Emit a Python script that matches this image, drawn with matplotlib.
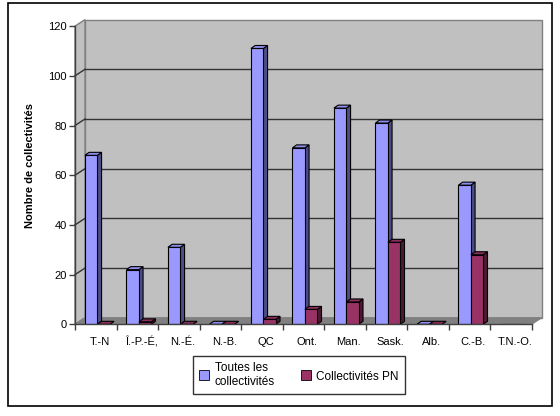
import numpy as np
import matplotlib
matplotlib.use("Agg")
import matplotlib.pyplot as plt
from matplotlib.patches import Polygon, Rectangle
from matplotlib.lines import Line2D

plt.rcParams['font.family'] = ['Liberation Sans', 'DejaVu Sans']

provinces = ['T.-N', 'Î.-P.-É,', 'N.-É.', 'N.-B.', 'QC', 'Ont.', 'Man.',
             'Sask.', 'Alb.', 'C.-B.', 'T.N.-O.']
toutes = [68, 22, 31, 0, 111, 71, 87, 81, 0, 56, np.nan]
pn = [0, 1, 0, 0, 2, 6, 9, 33, 0, 28, np.nan]
yticks = [0, 20, 40, 60, 80, 100, 120]

# colours (front, side, top)
blue = ('#9999FF', '#4D4D85', '#8F8FEF')
red = ('#993366', '#4D1A33', '#8A2D5C')

W, H = 560, 416
fig = plt.figure(figsize=(W / 100, H / 100), dpi=100)

# front plane of the 3D box, in pixels
x0p, x1p, y0p, y1p = 75, 531.5, 324.3, 26.1
ax = fig.add_axes([x0p / W, 1 - y0p / H, (x1p - x0p) / W, (y0p - y1p) / H])
ax.set_xlim(-0.5, 10.5)
ax.set_ylim(0, 120)
ax.patch.set_visible(False)

# depth offset in data units
dx = 10 / ((x1p - x0p) / 11)
dy = 6.5 / ((y0p - y1p) / 120)
top = yticks[-1]

wall = '#C0C0C0'
# back wall, side wall, floor
ax.add_patch(Polygon([(-0.5 + dx, dy), (10.5 + dx, dy), (10.5 + dx, top + dy),
                      (-0.5 + dx, top + dy)], closed=True, fc=wall,
                     ec='#808080', lw=1, clip_on=False, zorder=0))
ax.add_patch(Polygon([(-0.5, 0), (-0.5 + dx, dy), (-0.5 + dx, top + dy),
                      (-0.5, top)], closed=True, fc=wall, ec='#808080',
                     lw=1, clip_on=False, zorder=0))
ax.add_patch(Polygon([(-0.5, 0), (10.5, 0), (10.5 + dx, dy), (-0.5 + dx, dy)],
                     closed=True, fc='#808080', ec='#808080', lw=1,
                     clip_on=False, zorder=1))

# gridlines on the walls
for v in yticks[1:-1]:
    ax.plot([-0.5 + dx, 10.5 + dx], [v + dy, v + dy], color='#333333',
            lw=1, clip_on=False, zorder=1)
    ax.plot([-0.5, -0.5 + dx], [v, v + dy], color='#333333', lw=1,
            clip_on=False, zorder=1)

# bars
x = np.arange(len(provinces))
w = 0.3
shift = 0.04
ddx, ddy = 0.1, 1.2


def draw_bars(xs, vals, cols):
    ax.bar(xs, np.nan_to_num(vals), width=w, align='edge', color=cols[0],
           edgecolor='black', linewidth=0.8, zorder=3)
    for xi, v in zip(xs, vals):
        if np.isnan(v):
            continue
        side = [(xi + w, 0), (xi + w + ddx, ddy), (xi + w + ddx, v + ddy),
                (xi + w, v)]
        cap = [(xi, v), (xi + w, v), (xi + w + ddx, v + ddy), (xi + ddx, v + ddy)]
        ax.add_patch(Polygon(side, closed=True, fc=cols[1], ec='black',
                             lw=0.8, zorder=2))
        ax.add_patch(Polygon(cap, closed=True, fc=cols[2], ec='black',
                             lw=0.8, zorder=3))


draw_bars(x - w + shift, toutes, blue)
draw_bars(x + shift, pn, red)

# axes styling
for s in ['top', 'right']:
    ax.spines[s].set_visible(False)
for s in ['left', 'bottom']:
    ax.spines[s].set_color('#404040')
    ax.spines[s].set_linewidth(1)
    ax.spines[s].set_zorder(4)

ax.set_yticks(yticks)
ax.tick_params(axis='y', length=4.5, width=1, color='#404040', pad=1.5,
               labelsize=8)
# labels sit a little right of the category centre, as in the original
ax.set_xticks(x + 0.1)
ax.set_xticklabels(provinces)
ax.set_xticks(np.arange(-0.5, 11), minor=True)
ax.tick_params(axis='x', which='major', length=0, pad=9, labelsize=8)
ax.tick_params(axis='x', which='minor', length=4.5, width=1, color='#404040')

fig.text(30 / W, 1 - 166 / H, 'Nombre de collectivités', rotation=90,
         ha='center', va='center', fontsize=8, fontweight='bold')

# legend
handles = [Line2D([], [], ls='none', marker='s', ms=6.5, mfc=blue[0], mec='black',
                  mew=0.6),
           Line2D([], [], ls='none', marker='s', ms=6.5, mfc=red[0], mec='black',
                  mew=0.6)]
leg = fig.legend(handles, ['Toutes les\ncollectivités', 'Collectivités PN'],
                 loc='center', bbox_to_anchor=(299 / W, 1 - 375 / H), ncol=2,
                 fontsize=8.5, frameon=True, fancybox=False, borderpad=0.5,
                 handlelength=0.8, handletextpad=0.5, columnspacing=2.2,
                 labelspacing=0.2)
leg.get_frame().set_edgecolor('black')
leg.get_frame().set_linewidth(1)

# outer border
fig.add_artist(Rectangle((8 / W, 1 - 406 / H), 544 / W, 403 / H,
                         transform=fig.transFigure, fill=False, ec='black',
                         lw=1.2))

fig.savefig('out.png', dpi=100)
